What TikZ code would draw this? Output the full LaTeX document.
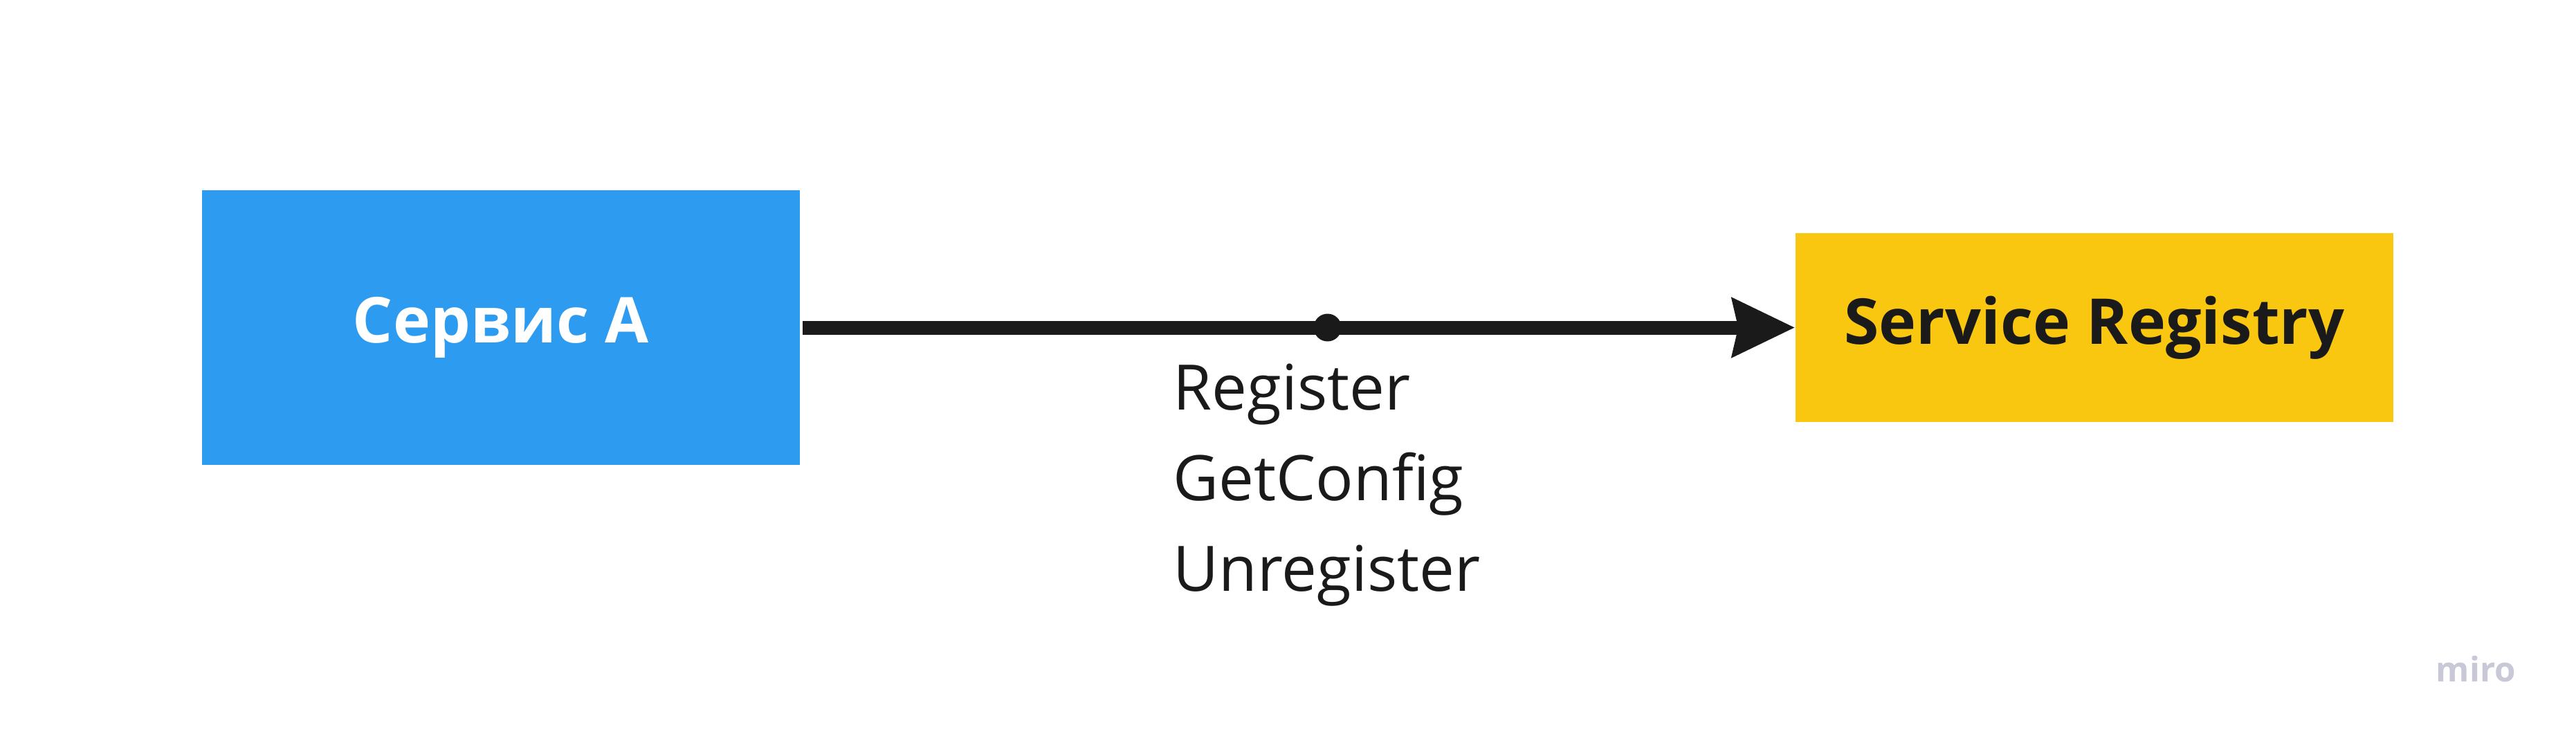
\documentclass[tikz,border=0pt]{standalone}
\usepackage{fontspec}
\setmainfont{Open Sans}
\usetikzlibrary{positioning,arrows.meta}
\definecolor{miroblue}{HTML}{2D9BF0}
\definecolor{miroyellow}{HTML}{FAC710}
\definecolor{miroink}{HTML}{1A1A1A}
\definecolor{mirogray}{RGB}{200,200,215}

\begin{document}
\begin{tikzpicture}[node distance=23.03cm,on grid,
  box/.style={rectangle,inner sep=0pt,minimum width=8.64cm,font=\fontsize{26}{31}\selectfont\bfseries},
  conn/.style={line width=0.2cm,draw=miroink,shorten <=0.03cm,-{Stealth[length=0.9cm,width=0.83cm,inset=0.08cm]}},
  joint/.style={circle,fill=miroink,inner sep=0pt,minimum size=0.4cm},
  calltext/.style={inner sep=0pt,align=left,text=miroink,font=\fontsize{25.8}{37.3}\selectfont}]
  \useasboundingbox[fill=white] (0,0) rectangle (37.23,-10.74);
   \node[box,fill=miroblue,text=white,minimum height=3.97cm] (svcA) at (7.24,-4.735) {Сервис А};
   \node[box,fill=miroyellow,text=miroink,minimum height=2.73cm] (registry) [right=of svcA] {Service Registry};
    \draw[conn] (svcA) -- (registry) node[joint,pos=0.53] (dot) {};
   \node[calltext,anchor=north west] (calls) at (16.95,-5.25) {Register\\GetConfig\\Unregister};
   \node[inner sep=0pt,anchor=base west,text=mirogray,font=\fontsize{14}{16}\selectfont\bfseries] (logo) at (35.2,-9.85) {miro};
\end{tikzpicture}
\end{document}
